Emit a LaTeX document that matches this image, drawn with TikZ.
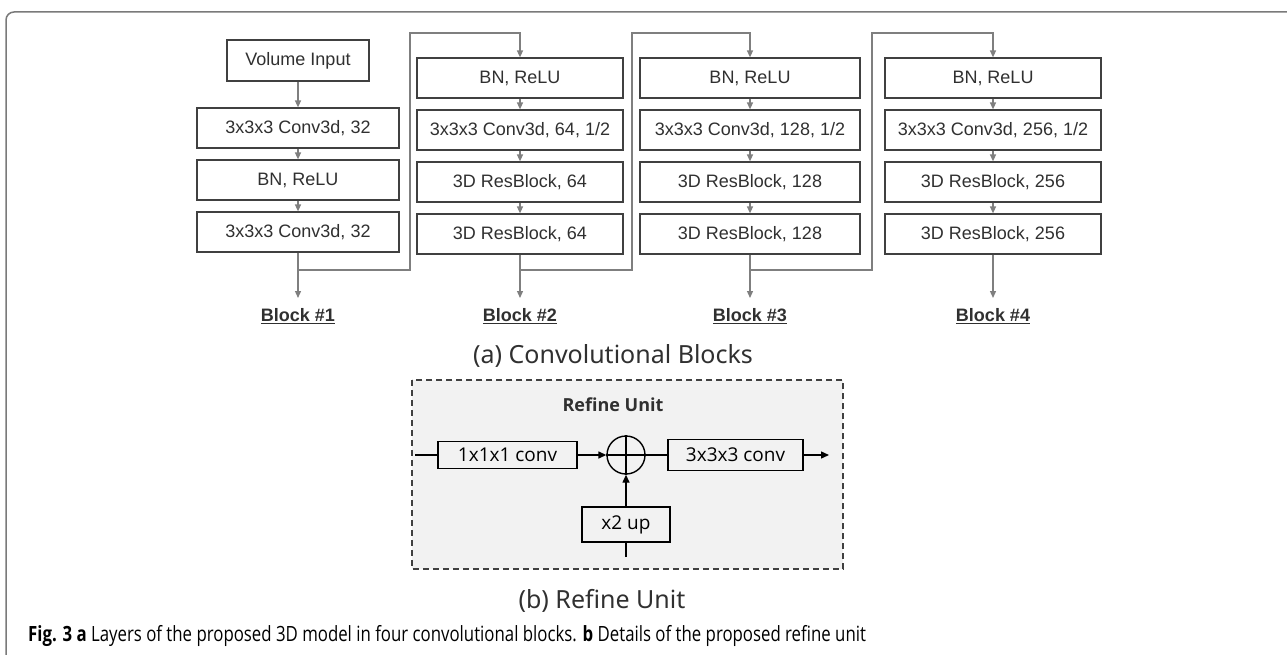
\documentclass[tikz,border=0pt]{standalone}
\usepackage{fontspec}
\setmainfont{Liberation Sans}
\newfontfamily\notofont{Noto Sans}
\newfontfamily\opfont{Open Sans}
\newfontfamily\capfont[FakeStretch=0.8]{Open Sans}
\usetikzlibrary{arrows.meta, positioning, calc}
\definecolor{framegray}{HTML}{7A7A7A}
\definecolor{boxline}{HTML}{404040}
\definecolor{flowgray}{HTML}{7F7F7F}
\definecolor{txtgray}{HTML}{303030}
\definecolor{panelgray}{HTML}{F2F2F2}
\tikzset{
    layer/.style={draw=boxline, line width=1.2pt, fill=white, minimum height=40pt,
        inner sep=0pt, text=txtgray, font=\fontsize{18}{20}\selectfont},
    flow/.style={draw=flowgray, line width=1.3pt, -{Triangle[length=7pt, width=6pt]}},
    blocklabel/.style={font=\fontsize{18}{20}\selectfont\bfseries, text=txtgray},
    refbox/.style={draw=black, line width=1.4pt, inner sep=0pt,
        font=\opfont\fontsize{19}{21}\selectfont},
    refline/.style={line width=1.4pt},
    refarrow/.style={line width=1.4pt, -{Triangle[length=8pt, width=7pt]}},
    subcap/.style={font=\notofont\fontsize{25}{28}\selectfont, text=txtgray},
}
\begin{document}
\begin{tikzpicture}[x=1pt, y=-1pt]
    \useasboundingbox (0,0) rectangle (1287,655);
    \draw[framegray, line width=1.5pt, rounded corners=8pt] (6,655) -- (6,12) -- (1287,12);
    % block 1
    \node[layer, minimum width=142pt, minimum height=41pt] (vin) at (298,60.5) {Volume Input};
    \node[layer, minimum width=202pt] (cva) at (298,128) {3x3x3 Conv3d, 32};
    \node[layer, minimum width=202pt] (bna) at (298,180) {BN, ReLU};
    \node[layer, minimum width=202pt] (cvb) at (298,232) {3x3x3 Conv3d, 32};
    \draw[flow] (vin) -- (cva);
    \draw[flow] (cva) -- (bna);
    \draw[flow] (bna) -- (cvb);
    \coordinate (out1) at (298,298);
    \draw[flow] (cvb) -- (out1);
    \node[blocklabel, below=7pt of out1] (lab1) {\underline{Block \#1}};
    % blocks 2 to 4
    \foreach \x/\w/\n/\k in {520/206/2/64, 750/220/3/128, 993/216/4/256} {
        \node[layer, minimum width=\w pt] (bn\n) at (\x,78) {BN, ReLU};
        \node[layer, minimum width=\w pt] (cv\n) at (\x,130) {3x3x3 Conv3d, \k, 1/2};
        \node[layer, minimum width=\w pt] (ra\n) at (\x,182) {3D ResBlock, \k};
        \node[layer, minimum width=\w pt] (rb\n) at (\x,234) {3D ResBlock, \k};
        \draw[flow] (bn\n) -- (cv\n);
        \draw[flow] (cv\n) -- (ra\n);
        \draw[flow] (ra\n) -- (rb\n);
        \coordinate (out\n) at (\x,298);
        \draw[flow] (rb\n) -- (out\n);
        \node[blocklabel, below=7pt of out\n] (lab\n) {\underline{Block \#\n}};
    }
    \coordinate (row) at (0,270);
    \foreach \a/\b/\g in {1/2/410, 2/3/632, 3/4/872}
        \draw[flow] (out\a |- row) -| (\g,33) -| (bn\b.north);
    \node[subcap] (capa) at (613,356) {(a) Convolutional Blocks};
    % refine unit
    \draw[boxline, line width=1.3pt, fill=panelgray, dash pattern=on 6pt off 4pt]
        (412,380) rectangle (843,569);
    \node[font=\opfont\bfseries\fontsize{18}{20}\selectfont, text=txtgray] (title) at (613,405) {Refine Unit};
    \node[refbox, minimum width=139pt, minimum height=27pt] (conv1) at (507.5,455) {1x1x1 conv};
    \node[draw, circle, line width=1.4pt, minimum size=38pt, inner sep=0pt] (sum) at (626,455) {};
    \draw[refline] (sum.north) -- (sum.south) (sum.west) -- (sum.east);
    \node[refbox, minimum width=135pt, minimum height=31pt] (conv3) at (735.5,455) {3x3x3 conv};
    \node[refbox, minimum width=88pt, minimum height=35pt] (up) at (626,524.5) {x2 up};
    \coordinate (rin) at (415,455);
    \coordinate (rout) at (829,455);
    \coordinate (upin) at (626,557);
    \draw[refline] (rin) -- (conv1);
    \draw[refarrow] (conv1) -- (sum);
    \draw[refline] (sum) -- (conv3);
    \draw[refarrow] (conv3) -- (rout);
    \draw[refarrow] (up) -- (sum);
    \draw[refline] (upin) -- (up);
    \node[subcap] (capb) at (602,601) {(b) Refine Unit};
    \node[anchor=base west, inner sep=0pt, font=\capfont\fontsize{21}{24}\selectfont] (cap) at (28,641)
        {\textbf{Fig. 3 a} Layers of the proposed 3D model in four convolutional blocks. \textbf{b} Details of the proposed refine unit};
\end{tikzpicture}
\end{document}
